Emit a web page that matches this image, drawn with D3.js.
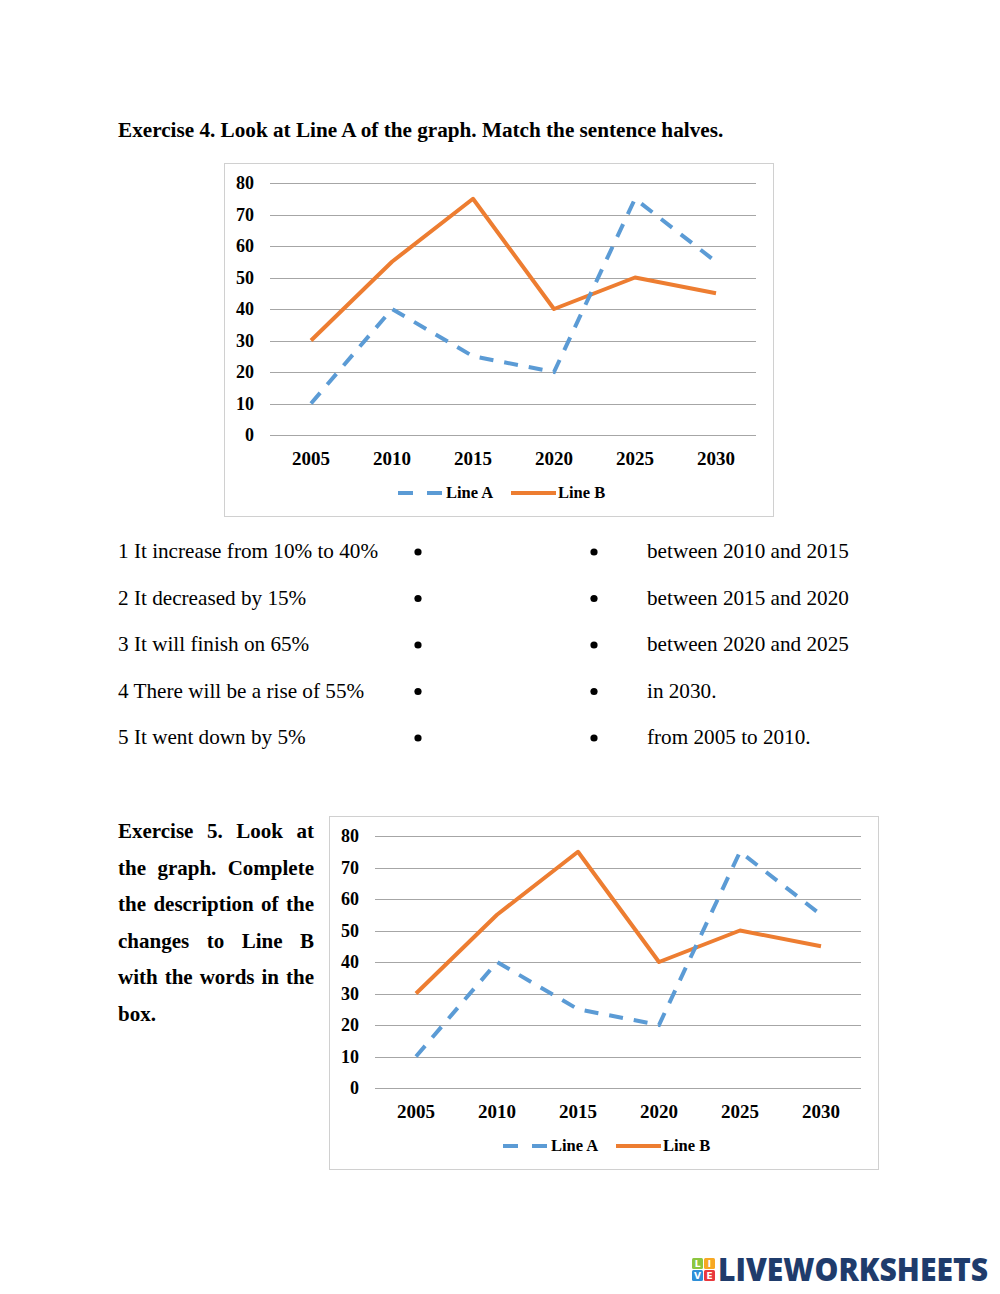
<!DOCTYPE html>
<html>
<head>
<meta charset="utf-8">
<script src="https://cdn.jsdelivr.net/npm/d3@7"></script>
<style>
  body { margin: 0; background: #fff; }
  svg text { font-family: "Liberation Serif", "Times New Roman", serif; }
</style>
</head>
<body>
<svg id="page" width="1000" height="1294"></svg>
<script>
// data
var years = ["2005", "2010", "2015", "2020", "2025", "2030"];
var lineA = [10, 40, 25, 20, 75, 55];
var lineB = [30, 55, 75, 40, 50, 45];
var yTicks = [0, 10, 20, 30, 40, 50, 60, 70, 80];

var leftHalves = ["1 It increase from 10% to 40%", "2 It decreased by 15%", "3 It will finish on 65%",
                  "4 There will be a rise of 55%", "5 It went down by 5%"];
var rightHalves = ["between 2010 and 2015", "between 2015 and 2020", "between 2020 and 2025",
                   "in 2030.", "from 2005 to 2010."];
var ex5Lines = ["Exercise 5. Look at", "the graph. Complete", "the description of the",
                "changes to Line B", "with the words in the", "box."];

var BLUE = "#5b9bd5";
var ORANGE = "#ed7d31";

var svg = d3.select("#page");

// heading
svg.append("text")
    .attr("x", 118).attr("y", 137)
    .attr("font-size", 21.2).attr("font-weight", "bold")
    .text("Exercise 4. Look at Line A of the graph. Match the sentence halves.");

// matching rows
leftHalves.forEach(function(s, i) {
    var y = 558 + i * 46.5;
    svg.append("text").attr("x", 118).attr("y", y).attr("font-size", 21.2).text(s);
    svg.append("circle").attr("cx", 418).attr("cy", y - 6).attr("r", 3.6).attr("fill", "#000");
    svg.append("circle").attr("cx", 594).attr("cy", y - 6).attr("r", 3.6).attr("fill", "#000");
    svg.append("text").attr("x", 647).attr("y", y).attr("font-size", 21.2).text(rightHalves[i]);
});

// exercise 5 text, justified by hand
ex5Lines.forEach(function(line, i) {
    var y = 838 + i * 36.5;
    var words = line.split(" ");
    var g = svg.append("g");
    var nodes = words.map(function(w) {
        return g.append("text").attr("y", y).attr("font-size", 21).attr("font-weight", "bold").text(w);
    });
    var lens = nodes.map(function(n) { return n.node().getComputedTextLength(); });
    var total = d3.sum(lens);
    var last = i == ex5Lines.length - 1;
    var gap = last ? 5 : (314 - 118 - total) / (words.length - 1);
    var x = 118;
    nodes.forEach(function(n, k) {
        n.attr("x", x);
        x += lens[k] + gap;
    });
});

function drawChart(ox, oy) {
    var g = svg.append("g").attr("transform", "translate(" + ox + "," + oy + ")");

    g.append("rect")
        .attr("x", 224.5).attr("y", 163.5).attr("width", 549).attr("height", 353)
        .attr("fill", "#fff").attr("stroke", "#d0d0d0").attr("stroke-width", 1);

    var x = d3.scalePoint().domain(years).range([270.5, 756.5]).padding(0.5);
    var y = d3.scaleLinear().domain([0, 80]).range([435, 183]);

    // gridlines
    g.append("g").selectAll("line").data(yTicks).join("line")
        .attr("x1", 270).attr("x2", 756)
        .attr("y1", function(d) { return Math.round(y(d)) + 0.5; })
        .attr("y2", function(d) { return Math.round(y(d)) + 0.5; })
        .attr("stroke", "#a6a6a6").attr("stroke-width", 1);

    // y labels
    g.append("g").selectAll("text").data(yTicks).join("text")
        .attr("x", 254).attr("y", function(d) { return y(d) + 6; })
        .attr("text-anchor", "end").attr("font-size", 18).attr("font-weight", "bold")
        .text(function(d) { return d; });

    // x labels
    g.append("g").selectAll("text").data(years).join("text")
        .attr("x", function(d) { return x(d); }).attr("y", 465)
        .attr("text-anchor", "middle").attr("font-size", 19).attr("font-weight", "bold")
        .text(function(d) { return d; });

    var line = d3.line()
        .x(function(d, i) { return x(years[i]); })
        .y(function(d) { return y(d); });

    g.append("path").datum(lineB).attr("d", line)
        .attr("fill", "none").attr("stroke", ORANGE).attr("stroke-width", 4)
        .attr("stroke-linejoin", "round");

    g.append("path").datum(lineA).attr("d", line)
        .attr("fill", "none").attr("stroke", BLUE).attr("stroke-width", 4)
        .attr("stroke-dasharray", "14,11");

    // legend
    g.append("line").attr("x1", 398).attr("x2", 444).attr("y1", 493).attr("y2", 493)
        .attr("stroke", BLUE).attr("stroke-width", 4).attr("stroke-dasharray", "15,14");
    g.append("text").attr("x", 446).attr("y", 498).attr("font-size", 16.5).attr("font-weight", "bold").text("Line A");
    g.append("line").attr("x1", 511).attr("x2", 556).attr("y1", 493).attr("y2", 493)
        .attr("stroke", ORANGE).attr("stroke-width", 4);
    g.append("text").attr("x", 558).attr("y", 498).attr("font-size", 16.5).attr("font-weight", "bold").text("Line B");
}

drawChart(0, 0);
drawChart(105, 653);

// logo
var logo = svg.append("g");
var sq = [
    {x: 692, y: 1258, c: "#8cc63f", t: "L"},
    {x: 704, y: 1258, c: "#f7a823", t: "I"},
    {x: 692, y: 1270, c: "#2e8fd8", t: "V"},
    {x: 704, y: 1270, c: "#e8383d", t: "E"}
];
sq.forEach(function(s) {
    logo.append("rect").attr("x", s.x).attr("y", s.y).attr("width", 11).attr("height", 11)
        .attr("rx", 1.5).attr("fill", s.c);
    logo.append("text").attr("x", s.x + 5.5).attr("y", s.y + 9).attr("text-anchor", "middle")
        .attr("font-size", 9).attr("font-weight", "bold").attr("fill", "#fff")
        .style("font-family", "DejaVu Sans").text(s.t);
});
logo.append("text").attr("x", 718).attr("y", 1281)
    .attr("font-size", 31).attr("font-weight", 800).attr("fill", "#1f3c6c")
    .attr("textLength", 270).attr("lengthAdjust", "spacingAndGlyphs")
    .style("font-family", "'Open Sans', sans-serif").text("LIVEWORKSHEETS");
</script>
</body>
</html>
